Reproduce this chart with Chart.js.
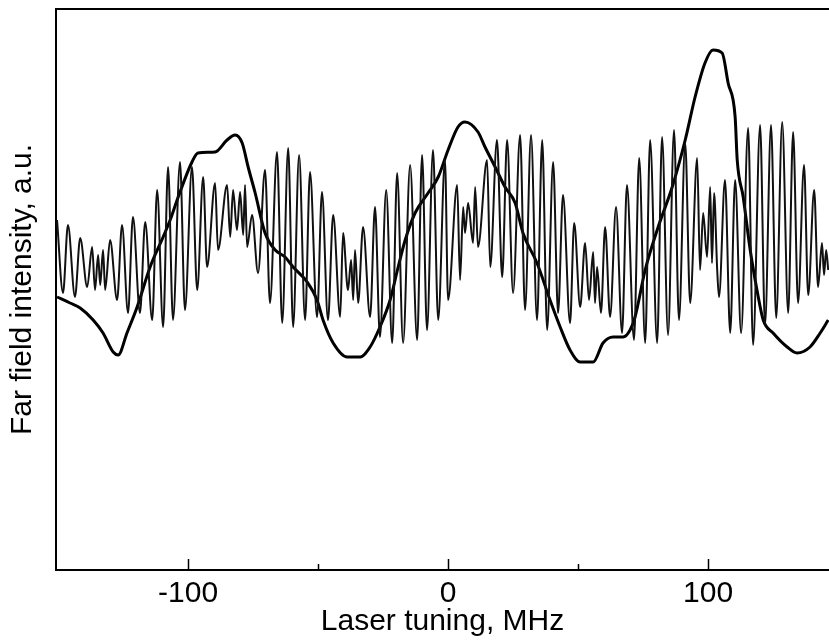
<!DOCTYPE html>
<html>
<head>
<meta charset="utf-8">
<script src="https://cdn.jsdelivr.net/npm/chart.js@4"></script>
<style>
  html, body { margin: 0; padding: 0; background: #fff; }
  #wrap { width: 829px; height: 640px; }
</style>
</head>
<body>
<div id="wrap"><canvas id="farField"></canvas></div>
<script>
// broad fringe envelope (thick trace)
const envTuning = [-150.4, -145.4, -141.5, -136.5, -132.7, -128.8, -126.9, -123.5, -119.6, -114.6,
    -109.6, -106.9, -103.8, -98.5, -96.2, -89.6, -85.0, -81.9, -79.2, -76.9,
    -74.2, -70.4, -66.5, -62.7, -59.6, -54.2, -50.4, -48.1, -44.2, -38.8,
    -33.8, -30.0, -26.2, -22.3, -19.2, -16.5, -12.7, -7.7, -3.8, 0,
    3.8, 6.5, 11.5, 14.2, 18.1, 21.9, 25.8, 28.8, 34.2, 39.2,
    43.1, 46.9, 50.8, 55.8, 59.6, 63.5, 67.3, 70.0, 71.9, 75.8,
    80.8, 86.2, 91.2, 95.0, 98.8, 101.9, 105.4, 107.7, 110.4, 111.2,
    113.5, 116.2, 118.8, 121.2, 125.0, 130.4, 134.2, 139.2, 143.1, 146.2]
const envIntensity = [2.73, 2.67, 2.62, 2.50, 2.37, 2.18, 2.15, 2.37, 2.63, 3.03,
    3.33, 3.50, 3.73, 4.08, 4.17, 4.18, 4.30, 4.35, 4.27, 4.03,
    3.77, 3.37, 3.20, 3.13, 3.03, 2.88, 2.70, 2.50, 2.27, 2.13,
    2.13, 2.23, 2.43, 2.70, 3.03, 3.30, 3.57, 3.77, 3.93, 4.20,
    4.43, 4.48, 4.38, 4.23, 4.03, 3.83, 3.67, 3.37, 3.07, 2.70,
    2.43, 2.20, 2.08, 2.08, 2.27, 2.33, 2.33, 2.40, 2.53, 3.00,
    3.43, 3.83, 4.30, 4.73, 5.07, 5.20, 5.17, 4.87, 4.53, 4.10,
    3.73, 3.20, 2.80, 2.50, 2.37, 2.23, 2.17, 2.23, 2.37, 2.50]

// fast interference fringes (thin trace)
const fringeTuning = [-150.4, -148.1, -146.2, -143.5, -141.5, -138.8, -136.9, -135.8, -134.6, -133.8,
    -132.7, -131.9, -130.0, -127.3, -125.4, -123.1, -121.2, -118.5, -116.5, -113.8,
    -111.9, -109.6, -107.7, -105.8, -103.1, -101.2, -98.5, -96.5, -94.2, -92.7,
    -89.6, -88.5, -85.0, -83.8, -82.7, -81.2, -80.0, -78.8, -78.1, -77.3,
    -75.4, -73.1, -70.4, -68.5, -65.8, -63.8, -61.5, -59.6, -57.3, -55.0,
    -53.1, -50.4, -48.5, -46.2, -44.2, -41.5, -40.4, -38.5, -37.3, -36.5,
    -35.8, -34.6, -32.7, -30.0, -28.1, -26.2, -23.8, -21.5, -19.6, -17.3,
    -14.6, -11.9, -10.0, -8.1, -5.8, -3.8, -1.2, 0, 3.5, 4.6,
    5.8, 6.5, 7.7, 9.6, 10.4, 11.5, 15.0, 16.2, 18.8, 20.8,
    22.7, 25.0, 27.7, 29.6, 31.9, 34.2, 36.2, 38.1, 40.4, 42.3,
    44.2, 46.9, 48.5, 50.8, 52.7, 54.2, 55.8, 56.5, 57.3, 58.8,
    60.4, 62.3, 64.6, 66.9, 68.8, 71.5, 73.5, 75.8, 77.7, 80.4,
    82.3, 84.6, 86.9, 88.8, 91.2, 93.1, 95.8, 96.9, 98.1, 99.6,
    100.8, 101.5, 102.3, 103.5, 104.2, 106.5, 108.5, 110.4, 112.7, 115.4,
    117.3, 120.0, 121.9, 124.2, 126.2, 128.5, 130.8, 132.7, 134.6, 136.9,
    138.5, 140.8, 142.3, 143.8, 144.6, 145.4, 146.2]
const fringeIntensity = [3.50, 2.77, 3.45, 2.73, 3.32, 2.83, 3.23, 2.80, 3.15, 2.85,
    3.20, 2.80, 3.30, 2.70, 3.45, 2.57, 3.53, 2.57, 3.48, 2.50,
    3.80, 2.43, 4.03, 2.50, 4.08, 2.60, 4.03, 2.80, 3.93, 3.03,
    3.87, 3.20, 3.85, 3.33, 3.80, 3.40, 3.78, 3.35, 3.85, 3.23,
    3.55, 2.97, 4.00, 2.67, 4.18, 2.47, 4.22, 2.43, 4.15, 2.50,
    3.98, 2.53, 3.78, 2.50, 3.55, 2.53, 3.37, 2.80, 3.10, 2.70,
    3.20, 2.67, 3.43, 2.53, 3.63, 2.33, 3.80, 2.27, 3.97, 2.27,
    4.05, 2.30, 4.15, 2.40, 4.20, 2.50, 4.10, 2.70, 3.85, 2.90,
    3.63, 3.37, 3.67, 3.27, 3.83, 3.23, 4.10, 3.03, 4.30, 2.93,
    4.30, 2.77, 4.35, 2.60, 4.35, 2.50, 4.30, 2.40, 4.08, 2.57,
    3.75, 2.47, 3.47, 2.63, 3.27, 2.70, 3.18, 2.67, 3.03, 2.57,
    3.43, 2.53, 3.63, 2.37, 3.85, 2.30, 4.12, 2.27, 4.30, 2.27,
    4.33, 2.35, 4.40, 2.50, 4.27, 2.67, 4.12, 3.00, 3.57, 3.13,
    3.83, 3.07, 3.77, 3.00, 2.73, 3.90, 2.37, 3.90, 2.37, 4.42,
    2.25, 4.45, 2.45, 4.45, 2.52, 4.48, 2.57, 4.38, 2.67, 4.05,
    2.75, 3.80, 2.83, 3.27, 2.95, 3.20, 3.00]

const majorTicks = [-100, 0, 100]
const minorTicks = [-50, 50]

const fontFamily = "'Liberation Sans', Arial, sans-serif"

const toPoints = (xs, ys) => xs.map((x, i) => ({ x: x, y: ys[i] }))

// frame on top + inward tick marks, like the original plot
const frameAndTicks = {
    id: 'frameAndTicks',
    afterDraw(chart) {
        const { ctx, chartArea: { left, right, top, bottom }, scales: { x } } = chart
        ctx.save()
        ctx.strokeStyle = '#000'
        ctx.lineWidth = 2
        ctx.beginPath()
        ctx.moveTo(left - 1, top)
        ctx.lineTo(right, top)
        ctx.stroke()

        ctx.lineWidth = 1.5
        majorTicks.forEach(v => {
            const px = Math.round(x.getPixelForValue(v)) + 0.5
            ctx.beginPath()
            ctx.moveTo(px, bottom)
            ctx.lineTo(px, bottom - 11)
            ctx.stroke()
        })
        minorTicks.forEach(v => {
            const px = Math.round(x.getPixelForValue(v)) + 0.5
            ctx.beginPath()
            ctx.moveTo(px, bottom)
            ctx.lineTo(px, bottom - 6)
            ctx.stroke()
        })
        ctx.restore()
    }
}

const data = {
    datasets: [
        {
            label: 'fringes',
            data: toPoints(fringeTuning, fringeIntensity),
            borderColor: '#111',
            borderWidth: 2,
            pointRadius: 0,
            cubicInterpolationMode: 'monotone',
        },
        {
            label: 'envelope',
            data: toPoints(envTuning, envIntensity),
            borderColor: '#000',
            borderWidth: 3,
            pointRadius: 0,
            cubicInterpolationMode: 'monotone',
        }
    ]
}

const config = {
    type: 'line',
    data: data,
    options: {
        responsive: true,
        maintainAspectRatio: false,
        animation: false,
        layout: { padding: { top: 9, right: 0, left: 0, bottom: 0 } },
        plugins: {
            legend: { display: false },
            tooltip: { enabled: false }
        },
        scales: {
            x: {
                type: 'linear',
                min: -150.8,
                max: 146.5,
                afterBuildTicks: (scale) => {
                    scale.ticks = majorTicks.concat(minorTicks).sort((a, b) => a - b).map(v => ({ value: v }))
                },
                afterFit: (scale) => { scale.height = 70 },
                grid: { display: false, drawTicks: false },
                border: { display: true, color: '#000', width: 2 },
                ticks: {
                    color: '#000',
                    padding: 6,
                    maxRotation: 0,
                    autoSkip: false,
                    font: { size: 30, family: fontFamily },
                    callback: (v) => majorTicks.includes(v) ? String(v) : ''
                },
                title: {
                    display: true,
                    text: 'Laser tuning, MHz',
                    color: '#000',
                    padding: { top: 0, bottom: 0 },
                    font: { size: 30, family: fontFamily }
                }
            },
            y: {
                min: 0,
                max: 5.61,
                afterFit: (scale) => { scale.width = 56 },
                grid: { display: false, drawTicks: false },
                border: { display: true, color: '#000', width: 2 },
                ticks: { display: false },
                title: {
                    display: true,
                    text: 'Far field intensity, a.u.',
                    color: '#000',
                    padding: { top: 5, bottom: 0 },
                    font: { size: 30, family: fontFamily }
                }
            }
        }
    },
    plugins: [frameAndTicks]
}

new Chart(document.getElementById('farField'), config)
</script>
</body>
</html>
